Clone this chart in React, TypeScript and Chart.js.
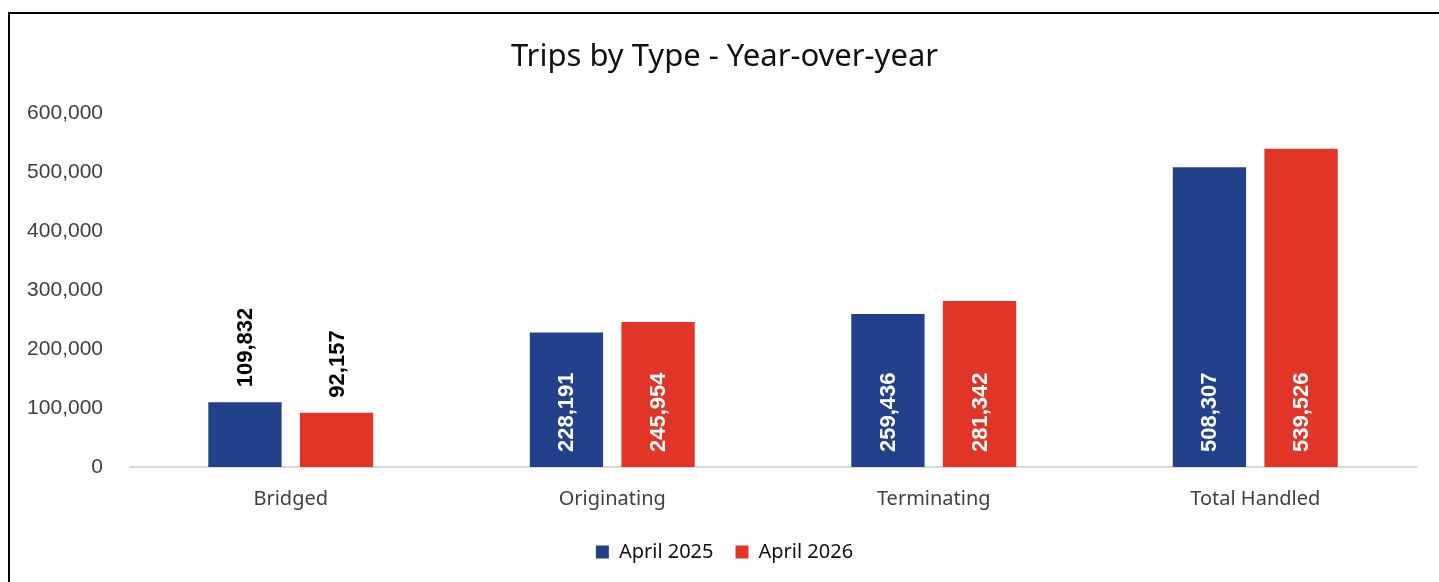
import React, { useEffect, useRef } from 'react';
import { Chart, registerables } from 'chart.js';

Chart.register(...registerables);

const categories = ['Bridged', 'Originating', 'Terminating', 'Total Handled'];
const seriesNames = ['April 2025', 'April 2026'];
const april2025 = [109832, 228191, 259436, 508307];
const april2026 = [92157, 245954, 281342, 539526];
const seriesColors = ['#23418B', '#E03527'];
const yMin = 0;
const yMax = 600000;
const yStep = 100000;
const titleText = 'Trips by Type - Year-over-year';

const LABEL_FONT = 'bold 22px "Liberation Sans", Arial, sans-serif';

const barLabelPlugin = {
  id: 'barLabels',
  afterDatasetsDraw(chart: any) {
    const ctx = chart.ctx;
    ctx.save();
    ctx.font = LABEL_FONT;
    chart.data.datasets.forEach((ds: any, di: number) => {
      const meta = chart.getDatasetMeta(di);
      meta.data.forEach((bar: any, i: number) => {
        const v = ds.data[i] as number;
        const text = v.toLocaleString('en-US');
        const w = ctx.measureText(text).width;
        const { x, y, base } = bar.getProps(['x', 'y', 'base'], true);
        const h = base - y;
        ctx.save();
        ctx.translate(x, 0);
        ctx.rotate(-Math.PI / 2);
        ctx.textBaseline = 'middle';
        ctx.textAlign = 'left';
        if (h > w + 30) {
          ctx.fillStyle = '#FFFFFF';
          ctx.fillText(text, -(base - 15), 1);
        } else {
          ctx.fillStyle = '#000000';
          ctx.fillText(text, -(y - 15), 1);
        }
        ctx.restore();
      });
    });
    ctx.restore();
  },
};

export default function App() {
  const ref = useRef<HTMLCanvasElement>(null);
  useEffect(() => {
    if (!ref.current) return;
    const chart = new Chart(ref.current, {
      type: 'bar',
      data: {
        labels: categories,
        datasets: [
          {
            label: seriesNames[0],
            data: april2025,
            backgroundColor: seriesColors[0],
            categoryPercentage: 0.57,
            barPercentage: 0.8,
          },
          {
            label: seriesNames[1],
            data: april2026,
            backgroundColor: seriesColors[1],
            categoryPercentage: 0.57,
            barPercentage: 0.8,
          },
        ],
      },
      plugins: [barLabelPlugin],
      options: {
        responsive: false,
        animation: false,
        devicePixelRatio: 1,
        layout: { padding: { left: 0, right: 0, top: 0, bottom: 10 } },
        plugins: {
          title: {
            display: true,
            text: titleText,
            color: '#111111',
            font: { family: '"Noto Sans", sans-serif', size: 31, weight: 'normal' },
            padding: { top: 25, bottom: 37 },
          },
          legend: {
            position: 'bottom',
            labels: {
              boxWidth: 13,
              boxHeight: 13,
              color: '#111111',
              font: { family: '"Noto Sans", sans-serif', size: 20 },
              padding: 22,
            },
          },
          tooltip: { enabled: false },
        },
        scales: {
          x: {
            grid: { display: false, drawTicks: false },
            border: { display: true, color: '#D9D9D9', width: 2 },
            ticks: {
              color: '#404040',
              font: { family: '"Noto Sans", sans-serif', size: 20 },
              padding: 20,
            },
            afterFit: (s: any) => {
              s.height = 53;
            },
          },
          y: {
            min: yMin,
            max: yMax,
            grid: { display: false, drawTicks: false },
            border: { display: false },
            ticks: {
              stepSize: yStep,
              color: '#404040',
              font: { family: '"Liberation Sans", Arial, sans-serif', size: 21 },
              padding: 27,
              callback: (v: any) => Number(v).toLocaleString('en-US'),
            },
            afterFit: (s: any) => {
              s.width = 120;
            },
          },
          y2: {
            position: 'right',
            display: true,
            grid: { display: false, drawTicks: false },
            border: { display: false },
            ticks: { display: false },
            afterFit: (s: any) => {
              s.width = 23;
            },
          },
        },
      },
    });
    return () => chart.destroy();
  }, []);

  return (
    <div
      style={{
        position: 'fixed',
        top: 12,
        left: 8,
        width: 1440,
        height: 580,
        borderTop: '2px solid #000',
        borderLeft: '2px solid #000',
        boxSizing: 'border-box',
        overflow: 'hidden',
        background: '#fff',
      }}
    >
      <canvas ref={ref} width={1429} height={568} style={{ display: 'block' }} />
    </div>
  );
}
